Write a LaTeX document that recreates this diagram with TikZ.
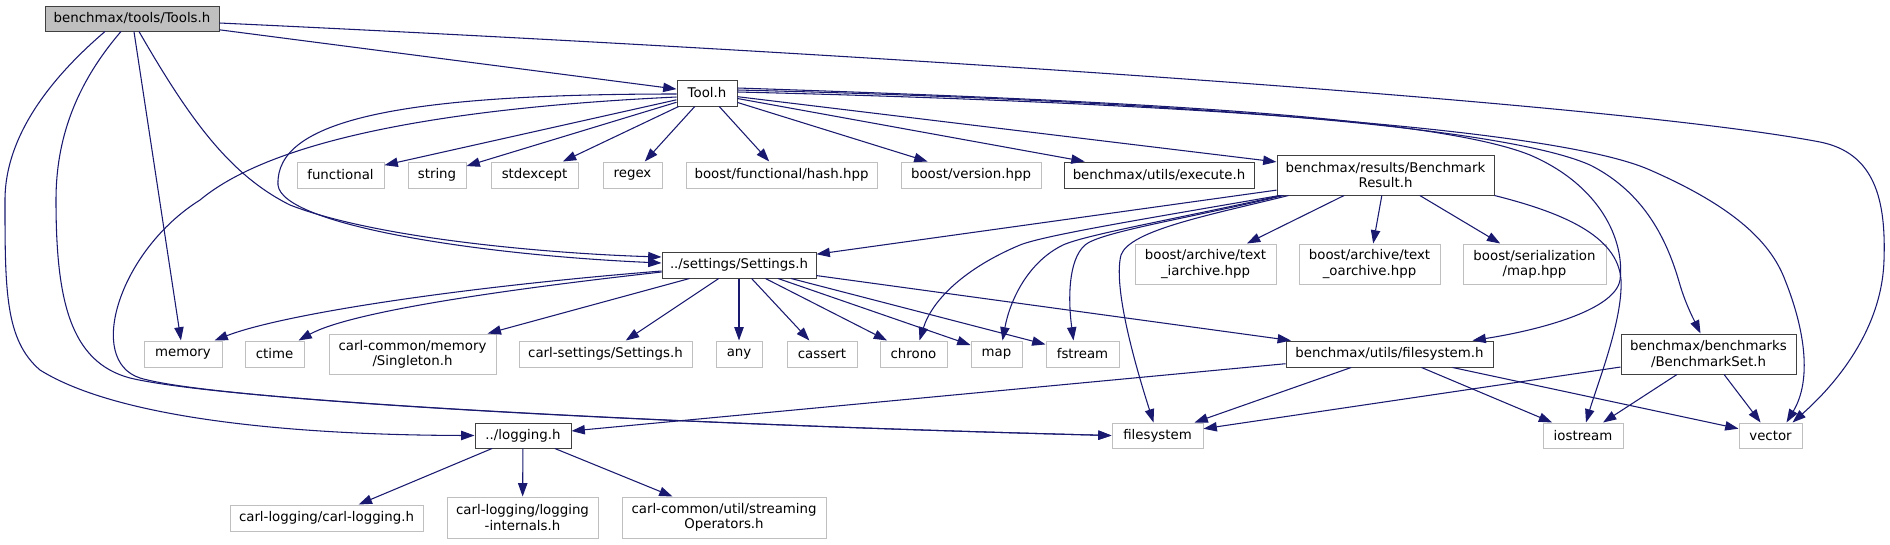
\documentclass[tikz,border=0pt]{standalone}
\usepackage{fontspec}
\setmainfont{DejaVu Sans}
\usetikzlibrary{arrows.meta,calc}
\definecolor{edgeblue}{HTML}{191970}
\definecolor{boxgray}{HTML}{BFBFBF}
\definecolor{boxline}{HTML}{404040}

\begin{document}
\begin{tikzpicture}[x=0.75pt,y=-0.75pt,
  wh/.style 2 args={minimum width=#1*0.75pt,minimum height=#2*0.75pt},
  box/.style={draw=boxline,line width=0.75pt,inner sep=0pt,align=center,font=\fontsize{10}{11.5}\selectfont},
  ext/.style={box,draw=boxgray},
  dep/.style={edgeblue,line width=0.8pt,-{Triangle[length=10pt,width=7pt]}}]
\useasboundingbox (0,0) rectangle (1890,544);

% top
\node[box,fill=boxgray,wh={174}{25}] (tools) at (132,18.5) {benchmax/tools/Tools.h};
\node[box,wh={60}{26}] (tool) at (707,93) {Tool.h};

% second row
\node[ext,wh={87}{26}] (functional) at (340.5,175) {functional};
\node[ext,wh={58}{26}] (string) at (437,175) {string};
\node[ext,wh={87}{26}] (stdexcept) at (534.5,175) {stdexcept};
\node[ext,wh={59}{26}] (regex) at (632.5,175) {regex};
\node[ext,wh={191}{26}] (hash) at (781.5,175) {boost/functional/hash.hpp};
\node[ext,wh={140}{26}] (version) at (971,175) {boost/version.hpp};
\node[box,wh={190}{26}] (execute) at (1159,175) {benchmax/utils/execute.h};
\node[box,wh={217}{40}] (result) at (1385.5,175) {benchmax/results/Benchmark\\Result.h};

% third row
\node[box,wh={154}{26}] (settings) at (739,265) {../settings/Settings.h};
\node[ext,wh={141}{40}] (iarchive) at (1205.5,264) {boost/archive/text\\\_iarchive.hpp};
\node[ext,wh={141}{40}] (oarchive) at (1369.5,264) {boost/archive/text\\\_oarchive.hpp};
\node[ext,wh={143}{40}] (sermap) at (1534.5,264) {boost/serialization\\/map.hpp};

% fourth row
\node[ext,wh={78}{26}] (memory) at (183,354) {memory};
\node[ext,wh={59}{26}] (ctime) at (274.5,354) {ctime};
\node[ext,wh={167}{40}] (singleton) at (412.5,354) {carl-common/memory\\/Singleton.h};
\node[ext,wh={173}{26}] (carlsettings) at (605.5,354) {carl-settings/Settings.h};
\node[ext,wh={46}{26}] (any) at (739,354) {any};
\node[ext,wh={70}{26}] (cassert) at (822,354) {cassert};
\node[ext,wh={67}{26}] (chrono) at (913.5,354) {chrono};
\node[ext,wh={51}{26}] (map) at (996.5,354) {map};
\node[ext,wh={73}{26}] (fstream) at (1082.5,354) {fstream};
\node[box,wh={207}{26}] (fsh) at (1389.5,354) {benchmax/utils/filesystem.h};
\node[box,wh={175}{40}] (bset) at (1708.5,354) {benchmax/benchmarks\\/BenchmarkSet.h};

% fifth row
\node[box,wh={96}{25}] (logging) at (523,435.5) {../logging.h};
\node[ext,wh={91}{25}] (filesystem) at (1157.5,435.5) {filesystem};
\node[ext,wh={80}{25}] (iostream) at (1583,435.5) {iostream};
\node[ext,wh={63}{25}] (vector) at (1770.5,435.5) {vector};

% bottom
\node[ext,wh={193}{26}] (carllog) at (326.5,518) {carl-logging/carl-logging.h};
\node[ext,wh={151}{41}] (internals) at (522.5,517.5) {carl-logging/logging\\-internals.h};
\node[ext,wh={204}{41}] (streaming) at (724,517.5) {carl-common/util/streaming\\Operators.h};

% straight includes
\foreach \a/\b in {tools/tool,tools/memory,
  tool/functional,tool/string,tool/stdexcept,tool/regex,tool/hash,tool/version,tool/execute,tool/result,
  result/settings,result/iarchive,result/oarchive,result/sermap,
  settings/singleton,settings/carlsettings,settings/any,settings/cassert,settings/chrono,settings/map,settings/fstream,settings/fsh,
  fsh/logging,fsh/filesystem,fsh/iostream,fsh/vector,
  bset/filesystem,bset/iostream,bset/vector,
  logging/carllog,logging/internals,logging/streaming}
  \draw[dep] (\a) -- (\b);

% routed includes
\draw[dep] ($(tools.south)+(-27,0)$) .. controls (60,70) and (5,130) .. (5,200)
  .. controls (5,290) and (5,340) .. (40,370) .. controls (120,420) and (300,435) .. (logging.west);
\draw[dep] ($(tools.south)+(-11,0)$) .. controls (75,85) and (56,140) .. (56,200)
  .. controls (56,300) and (70,362) .. (130,378) .. controls (230,402) and (700,425) .. (filesystem.west);
\draw[dep] ($(tools.south)+(7,0)$) .. controls (190,120) and (230,175) .. (290,205)
  .. controls (380,240) and (560,254) .. ($(settings.west)+(0,-8)$);
\draw[dep] ($(tools.east)+(0,4.5)$) .. controls (800,50) and (1600,100) .. (1820,142)
  .. controls (1875,153) and (1886,200) .. (1884,260) .. controls (1882,330) and (1835,385) .. ($(vector.north)+(22,0)$);

\draw[dep] ($(tool.west)+(0,1)$) .. controls (400,94) and (275,120) .. (278,185)
  .. controls (282,225) and (480,255) .. ($(settings.west)+(0,-2)$);
\draw[dep] ($(tool.west)+(0,4)$) .. controls (400,110) and (260,150) .. (200,200)
  .. controls (120,250) and (85,360) .. (140,378) .. controls (220,402) and (700,425) .. (filesystem.west);
\draw[dep] ($(tool.east)+(0,-5)$) .. controls (1100,100) and (1430,115) .. (1530,155)
  .. controls (1600,185) and (1625,240) .. (1620,280) .. controls (1615,310) and (1540,330) .. ($(fsh.north east)+(-21,0)$);
\draw[dep] ($(tool.east)+(0,-3)$) .. controls (1150,100) and (1500,125) .. (1590,165)
  .. controls (1650,195) and (1670,250) .. (1680,285) .. controls (1686,305) and (1694,320) .. ($(bset.north)+(-8,0)$);
\draw[dep] ($(tool.east)+(0,-1)$) .. controls (1200,103) and (1560,130) .. (1650,170)
  .. controls (1730,205) and (1770,240) .. (1785,280) .. controls (1805,330) and (1812,380) .. ($(vector.north)+(16,0)$);

\draw[dep] (result.south east) .. controls (1560,212) and (1618,235) .. (1621,280)
  .. controls (1623,320) and (1597,385) .. ($(iostream.north)+(3,0)$);
\draw[dep] ($(result.south west)+(3,0)$) .. controls (1150,218) and (1045,235) .. (1020,245)
  .. controls (965,268) and (932,300) .. ($(chrono.north)+(6,0)$);
\draw[dep] ($(result.south west)+(5,0)$) .. controls (1170,220) and (1085,235) .. (1063,245)
  .. controls (1028,262) and (1010,300) .. ($(map.north)+(6,0)$);
\draw[dep] ($(result.south west)+(7,0)$) .. controls (1190,218) and (1100,232) .. (1085,245)
  .. controls (1068,260) and (1068,300) .. ($(fstream.north)+(-9,0)$);
\draw[dep] ($(result.south west)+(12,0)$) .. controls (1210,215) and (1130,230) .. (1121,255)
  .. controls (1112,290) and (1140,380) .. ($(filesystem.north)+(-4,0)$);

\draw[dep] ($(settings.west)+(0,6)$) .. controls (450,288) and (280,315) .. ($(memory.north east)+(-8,0)$);
\draw[dep] ($(settings.west)+(0,7)$) .. controls (500,290) and (350,312) .. ($(ctime.north east)+(-6,0)$);
\end{tikzpicture}
\end{document}
